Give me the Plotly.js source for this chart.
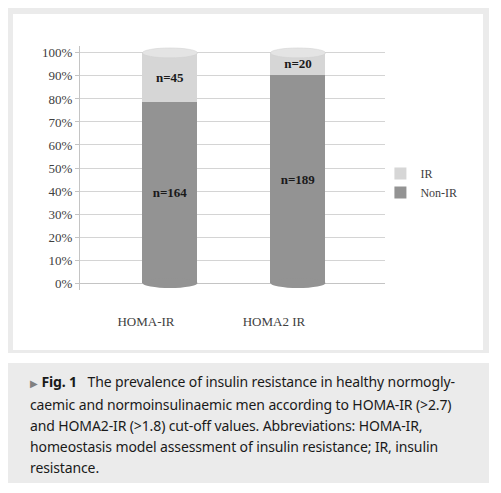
<!DOCTYPE html>
<html>
<head>
<meta charset="utf-8">
<script src="https://cdn.plot.ly/plotly-3.0.1.min.js"></script>
<style>
  html, body { margin:0; padding:0; background:#ffffff; }
  #frame { position:absolute; left:8px; top:8px; width:481px; height:345px; background:#ebebeb; }
  #inner { position:absolute; left:13px; top:14px; width:470px; height:336px; background:#ffffff; }
  #chart { position:absolute; left:0; top:0; width:501px; height:493px; }
  #caption { position:absolute; left:8px; top:363px; width:459px; height:112px; background:#ebebeb;
             padding:8px 0 0 22px; font-family:"Noto Sans", sans-serif; font-size:14px; line-height:21px;
             color:#1a1a1a; white-space:nowrap; letter-spacing:-0.12px; }
  #caption .arr { color:#808080; font-size:10px; }
</style>
</head>
<body>
<div id="frame"></div>
<div id="inner"></div>
<div id="chart"></div>
<div id="caption"><span class="arr">&#9654;</span> <b>Fig. 1</b>&nbsp;&nbsp; The prevalence of insulin resistance in healthy normogly-<br>caemic and normoinsulinaemic men according to HOMA-IR (&gt;2.7)<br>and HOMA2-IR (&gt;1.8) cut-off values. Abbreviations: HOMA-IR,<br>homeostasis model assessment of insulin resistance; IR, insulin<br>resistance.</div>
<script>
const categories = ['HOMA-IR', 'HOMA2 IR'];
const nonIR = [164, 189];
const ir = [45, 20];
const yTicks = [0, 10, 20, 30, 40, 50, 60, 70, 80, 90, 100];

const serif = 'Liberation Serif, Times New Roman, serif';
const barW = 0.43;
const capH = 4.3;

const traces = [
  {
    type: 'bar', name: 'Non-IR', x: categories, y: nonIR, width: barW,
    marker: { color: '#939393', line: { width: 0 } },
    text: nonIR.map(v => '<b>n=' + v + '</b>'), textposition: 'inside', insidetextanchor: 'middle',
    textfont: { family: serif, size: 13, color: '#1a1a1a' },
    constraintext: 'none', hoverinfo: 'skip'
  },
  {
    type: 'bar', name: 'IR', x: categories, y: ir, width: barW,
    marker: { color: '#d6d6d6', line: { width: 0 } },
    text: ir.map(v => '<b>n=' + v + '</b>'), textposition: 'inside', insidetextanchor: 'middle',
    textfont: { family: serif, size: 13, color: '#1a1a1a' },
    constraintext: 'none', hoverinfo: 'skip'
  }
];

const shapes = [];
categories.forEach((c, i) => {
  shapes.push({ type: 'circle', xref: 'x', yref: 'y', x0: i - barW / 2, x1: i + barW / 2,
    y0: -capH / 2, y1: capH / 2, fillcolor: '#939393', line: { width: 0 }, layer: 'above' });
  shapes.push({ type: 'circle', xref: 'x', yref: 'y', x0: i - barW / 2, x1: i + barW / 2,
    y0: 100 - capH / 2, y1: 100 + capH / 2, fillcolor: '#e4e4e4', line: { width: 0.5, color: '#cfcfcf' }, layer: 'above' });
});

const layout = {
  width: 501, height: 493,
  margin: { l: 80, r: 116, t: 46, b: 203, pad: 0 },
  paper_bgcolor: 'rgba(0,0,0,0)', plot_bgcolor: 'rgba(0,0,0,0)',
  barmode: 'stack', barnorm: 'percent',
  showlegend: true,
  legend: { x: 0.985, xanchor: 'left', y: 0.537, yanchor: 'top', traceorder: 'reversed',
            font: { family: serif, size: 12, color: '#404040' }, bgcolor: 'rgba(0,0,0,0)',
            itemwidth: 30, tracegroupgap: 0 },
  xaxis: { type: 'category', range: [-0.703, 1.68], showgrid: false, zeroline: false,
           showline: false, ticks: '', tickfont: { family: serif, size: 13, color: '#404040' },
           ticklabelstandoff: 22, ticklabelshift: -24 },
  yaxis: { range: [-3, 103], tickvals: yTicks, ticktext: yTicks.map(v => v + '%'),
           showgrid: true, gridcolor: '#d4d4d4', gridwidth: 1,
           zeroline: true, zerolinecolor: '#c4c4c4', zerolinewidth: 1,
           showline: true, linecolor: '#c4c4c4', linewidth: 1,
           ticks: 'outside', ticklen: 4, tickcolor: '#c4c4c4',
           tickfont: { family: serif, size: 13, color: '#404040' } },
  shapes: shapes
};

Plotly.newPlot('chart', traces, layout, { staticPlot: true, displayModeBar: false });
</script>
</body>
</html>
